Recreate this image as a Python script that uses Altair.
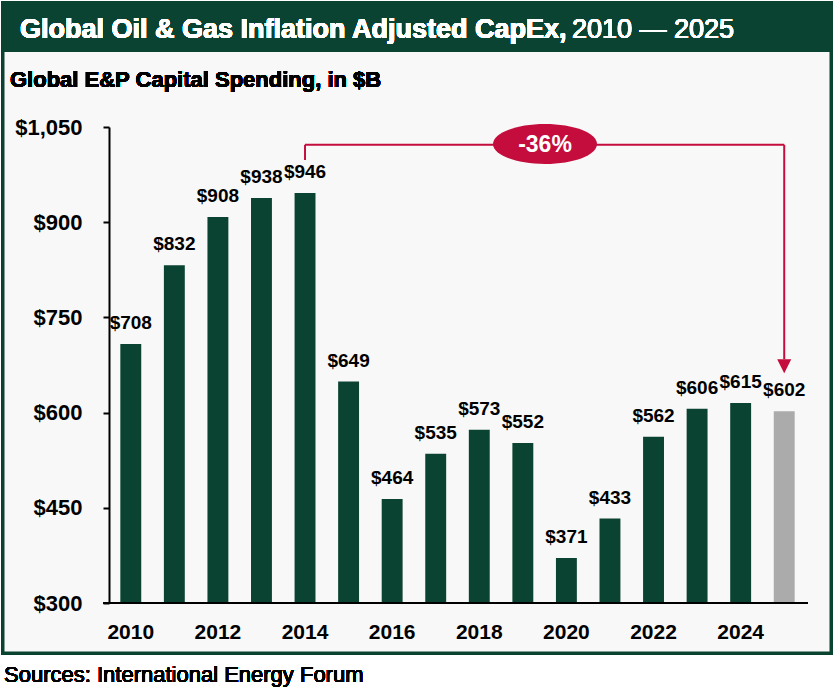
import altair as alt
import pandas as pd

# ---- data ----
years = list(range(2010, 2026))
capex = [708, 832, 908, 938, 946, 649, 464, 535, 573, 552, 371, 433, 562, 606, 615, 602]
labels = ["$" + str(v) for v in capex]
tick_years = [2010, 2012, 2014, 2016, 2018, 2020, 2022, 2024]
y_ticks = [300, 450, 600, 750, 900, 1050]

peak_year = 2014
last_year = 2025
change_text = "-36%"

GREEN = "#0a4331"
GRAY = "#ababab"
RED = "#c40d3d"
FONT = "Liberation Sans"

W, H = 697, 476
PL, PT = 109, 127

df = pd.DataFrame({"year": years, "capex": capex, "label": labels})

x = alt.X("year:O", scale=alt.Scale(paddingInner=0.52, paddingOuter=0.26),
          axis=alt.Axis(values=tick_years, title=None, domain=False, ticks=False,
                        labelAngle=0, labelFont=FONT, labelFontSize=21, labelFontWeight="bold",
                        labelColor="black", labelPadding=29, labelBaseline="middle", zindex=1))
yscale = alt.Scale(domain=[300, 1050], zero=False, nice=False)
y = alt.Y("capex:Q", scale=yscale,
          axis=alt.Axis(values=y_ticks, title=None, grid=False, format="$,d",
                        domainColor="black", domainWidth=2, tickColor="black", tickWidth=2,
                        tickSize=6, labelFont=FONT, labelFontSize=22, labelFontWeight="bold",
                        labelColor="black", labelPadding=21, labelFlush=False,
                        labelOverlap=False, zindex=1))

# frame and header
frame = alt.Chart(df).mark_rect(fill="#f8f8f8", stroke=GREEN, strokeWidth=3).encode(
    x=alt.value(3 - PL), x2=alt.value(831 - PL), y=alt.value(3 - PT), y2=alt.value(653 - PT))
header = alt.Chart(df).mark_rect(fill=GREEN).encode(
    x=alt.value(3 - PL), x2=alt.value(831 - PL), y=alt.value(3 - PT), y2=alt.value(52 - PT))

title_bold = alt.Chart(df).mark_text(
    text="Global Oil & Gas Inflation Adjusted CapEx,", font=FONT, fontSize=27, fontWeight="bold",
    color="white", align="left", baseline="middle").encode(x=alt.value(20 - PL), y=alt.value(30 - PT))
title_reg = alt.Chart(df).mark_text(
    text="2010 — 2025", font=FONT, fontSize=27, fontWeight="normal",
    color="white", align="left", baseline="middle").encode(x=alt.value(572 - PL), y=alt.value(30 - PT))
subtitle = alt.Chart(df).mark_text(
    text="Global E&P Capital Spending, in $B", font=FONT, fontSize=22, fontWeight="bold",
    color="black", align="left", baseline="middle").encode(x=alt.value(10 - PL), y=alt.value(80 - PT))
source = alt.Chart(df).mark_text(
    text="Sources: International Energy Forum", font=FONT, fontSize=22,
    color="black", align="left", baseline="middle").encode(x=alt.value(4 - PL), y=alt.value(675 - PT))

bars = alt.Chart(df).mark_bar().encode(
    x=x, y=y, y2=alt.datum(300),
    color=alt.condition(alt.datum.year == last_year, alt.value(GRAY), alt.value(GREEN)))

text = alt.Chart(df).mark_text(font=FONT, fontSize=19, fontWeight="bold", color="black",
                               baseline="middle", dy=-21).encode(x=x, y=y, text="label:N")

baseline = alt.Chart(df).mark_rule(color="black", strokeWidth=2).encode(
    x=alt.value(-6), x2=alt.value(W + 2), y=alt.value(H))

# annotation (data units)
line_level = 1022
start_level = 998
arrow_top = 684
arrow_mid = 673

ann = pd.DataFrame({"year": [peak_year], "year2": [last_year], "top": [line_level],
                    "start": [start_level], "atop": [arrow_top], "amid": [arrow_mid]})
ax = alt.X("year:O")
r1 = alt.Chart(ann).mark_rule(color=RED, strokeWidth=2).encode(
    x=ax, y=alt.Y("start:Q", scale=yscale), y2="top:Q")
r2 = alt.Chart(ann).mark_rule(color=RED, strokeWidth=2).encode(
    x=ax, x2="year2:O", y=alt.Y("top:Q", scale=yscale))
r3 = alt.Chart(ann).mark_rule(color=RED, strokeWidth=2).encode(
    x=alt.X("year2:O"), y=alt.Y("top:Q", scale=yscale), y2="atop:Q")
arrow = alt.Chart(ann).mark_point(shape="M-1,-1L1,-1L0,1Z", filled=True, color=RED, opacity=1,
                                  size=196).encode(x=alt.X("year2:O"), y=alt.Y("amid:Q", scale=yscale))

k = 0.5523
r = 0.385
ell_path = (f"M-1,0C-1,{-r*k:.4f} {-k},{-r} 0,{-r}C{k},{-r} 1,{-r*k:.4f} 1,0"
            f"C1,{r*k:.4f} {k},{r} 0,{r}C{-k},{r} -1,{r*k:.4f} -1,0Z")
ellipse = alt.Chart(ann).mark_point(shape=ell_path, filled=True, color=RED, opacity=1,
                                    size=104 * 104).encode(x=alt.value(545 - PL), y=alt.value(144 - PT))
ell_text = alt.Chart(ann).mark_text(text=change_text, font=FONT, fontSize=23, fontWeight="bold",
                                    color="white", baseline="middle").encode(
    x=alt.value(545 - PL), y=alt.value(145 - PT))

chart = alt.layer(frame, header, title_bold, title_reg, subtitle, source,
                  bars, text, baseline, r1, r2, r3, arrow, ellipse, ell_text).properties(
    width=W, height=H,
    padding={"left": PL, "top": PT, "right": 834 - PL - W, "bottom": 688 - PT - H},
    autosize=alt.AutoSizeParams(type="none"),
    background="white",
).configure_view(stroke=None)

chart.save("out.html", embed_options={"renderer": "svg", "actions": False})
